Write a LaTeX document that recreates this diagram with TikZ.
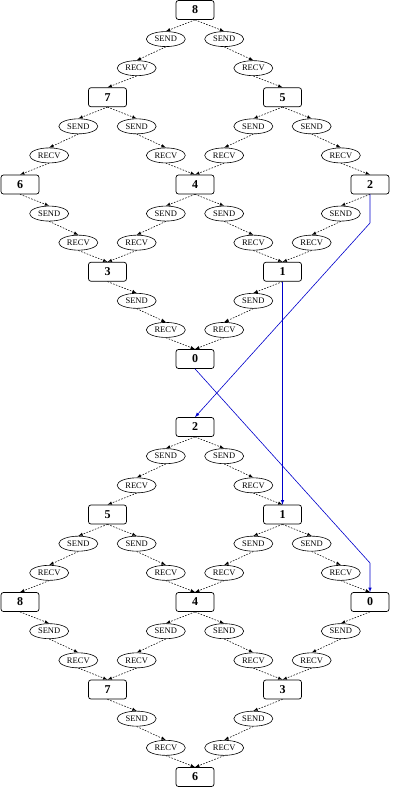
\documentclass[tikz,border=0pt]{standalone}
\usepackage{fontspec}
\setmainfont{Liberation Serif}
\usetikzlibrary{shapes.geometric,calc}

\tikzset{
	proc/.style={draw, rounded corners=2.5pt, minimum width=38pt, minimum height=19pt, inner sep=0pt, line width=0.7pt, font=\fontsize{12}{12}\selectfont\bfseries},
	msg/.style={draw, ellipse, minimum width=39pt, minimum height=15pt, inner sep=0pt, line width=0.6pt, font=\fontsize{8.5}{8.5}\selectfont},
	link/.style={->, >=latex, line width=0.55pt, dash pattern=on 1.6pt off 1.4pt},
	pass/.style={->, >=latex, line width=0.6pt, blue!80!black}
}

% one SEND / RECV pair between two process boxes
\newcommand{\sendrecv}[2]{%
	\node [msg] (#1#2s) at ($(#1)!1/3!(#2)$) {SEND};
	\node [msg] (#1#2r) at ($(#1)!2/3!(#2)$) {RECV};
	\draw [link] (#1.south) -- (#1#2s.north);
	\draw [link] (#1#2s.south) -- (#1#2r.north);
	\draw [link] (#1#2r.south) -- (#2.north);
}

\begin{document}
\begin{tikzpicture}[x=1pt, y=-1pt]
	\useasboundingbox (0,0) rectangle (406,787);

	% upper diamond
	\node [proc] (t8) at (195,10) {8};
	\node [proc] (t7) at (107.5,97.25) {7};
	\node [proc] (t5) at (282.5,97.25) {5};
	\node [proc] (t6) at (20,184.5) {6};
	\node [proc] (t4) at (195,184.5) {4};
	\node [proc] (t2) at (370,184.5) {2};
	\node [proc] (t3) at (107.5,271.75) {3};
	\node [proc] (t1) at (282.5,271.75) {1};
	\node [proc] (t0) at (195,359) {0};

	\sendrecv{t8}{t7}
	\sendrecv{t8}{t5}
	\sendrecv{t7}{t6}
	\sendrecv{t7}{t4}
	\sendrecv{t5}{t4}
	\sendrecv{t5}{t2}
	\sendrecv{t6}{t3}
	\sendrecv{t4}{t3}
	\sendrecv{t4}{t1}
	\sendrecv{t2}{t1}
	\sendrecv{t3}{t0}
	\sendrecv{t1}{t0}

	% lower diamond
	\node [proc] (b2) at (195,427) {2};
	\node [proc] (b5) at (107.5,514.5) {5};
	\node [proc] (b1) at (282.5,514.5) {1};
	\node [proc] (b8) at (20,602) {8};
	\node [proc] (b4) at (195,602) {4};
	\node [proc] (b0) at (370,602) {0};
	\node [proc] (b7) at (107.5,689.5) {7};
	\node [proc] (b3) at (282.5,689.5) {3};
	\node [proc] (b6) at (195,777) {6};

	\sendrecv{b2}{b5}
	\sendrecv{b2}{b1}
	\sendrecv{b5}{b8}
	\sendrecv{b5}{b4}
	\sendrecv{b1}{b4}
	\sendrecv{b1}{b0}
	\sendrecv{b8}{b7}
	\sendrecv{b4}{b7}
	\sendrecv{b4}{b3}
	\sendrecv{b0}{b3}
	\sendrecv{b7}{b6}
	\sendrecv{b3}{b6}

	% hand-over between the two diamonds
	\coordinate (k2) at (370,223);
	\coordinate (k0) at (370,563);
	\draw [pass] (t2.south) -- (k2) -- (b2.north);
	\draw [pass] (t1.south) -- (b1.north);
	\draw [pass] (t0.south) -- (k0) -- (b0.north);
\end{tikzpicture}
\end{document}
